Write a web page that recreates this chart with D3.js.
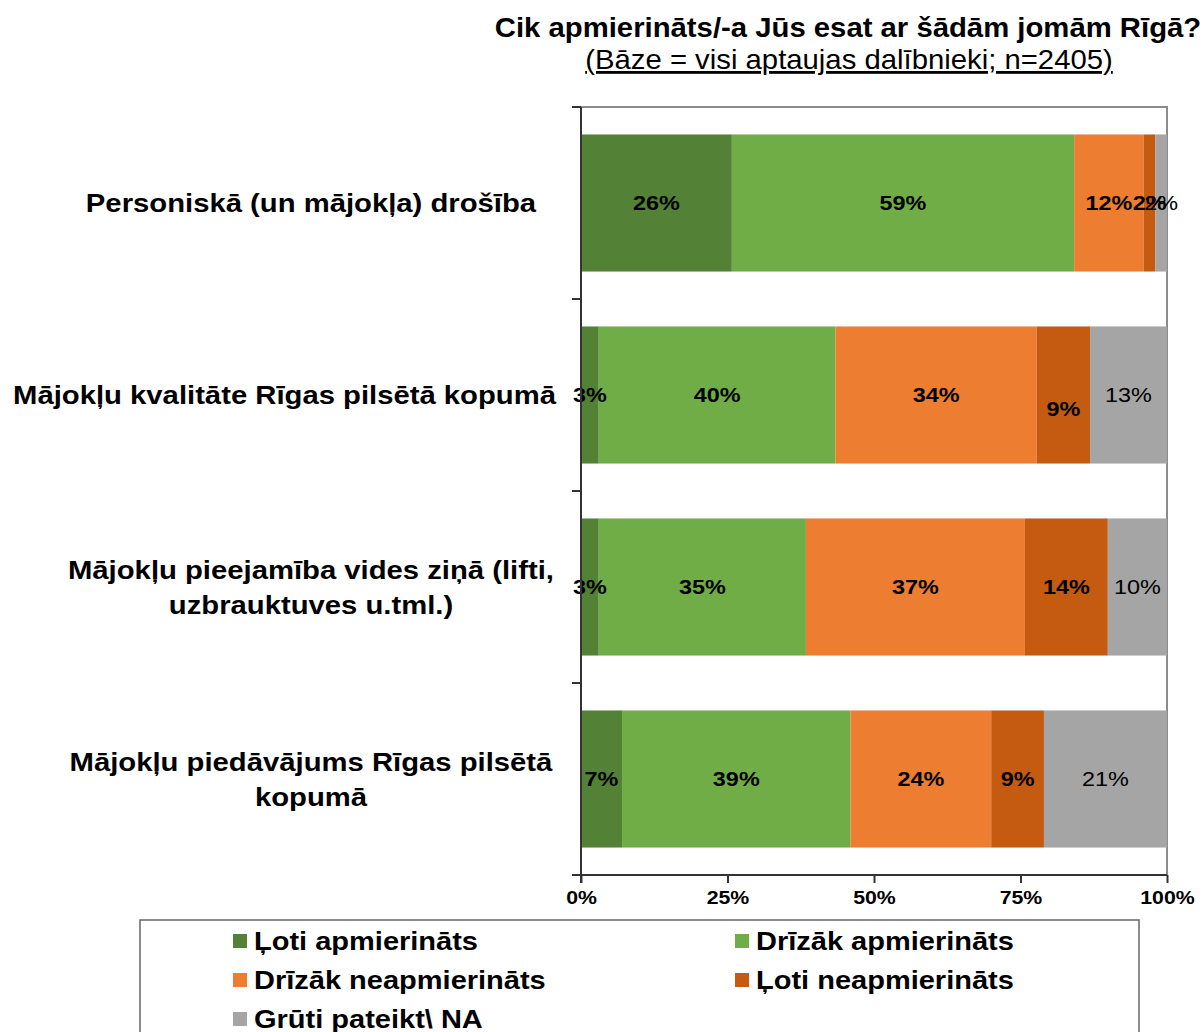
<!DOCTYPE html>
<html>
<head>
<meta charset="utf-8">
<script src="https://cdn.jsdelivr.net/npm/d3@7"></script>
<style>
  html, body { margin: 0; padding: 0; background: #fff; }
  svg { display: block; }
</style>
</head>
<body>
<svg id="chart" width="1204" height="1032"></svg>
<script>
// Survey categories (y axis), top to bottom
const categories = [
  ["Personiskā (un mājokļa) drošība"],
  ["Mājokļu kvalitāte Rīgas pilsētā kopumā"],
  ["Mājokļu pieejamība vides ziņā (lifti,", "uzbrauktuves u.tml.)"],
  ["Mājokļu piedāvājums Rīgas pilsētā", "kopumā"]
];

// Answer options (stack order, left to right)
const seriesNames = [
  "Ļoti apmierināts",
  "Drīzāk apmierināts",
  "Drīzāk neapmierināts",
  "Ļoti neapmierināts",
  "Grūti pateikt\\ NA"
];

// Share of respondents, %, one array per answer option (rows follow categories)
const veryPleased    = [26, 3, 3, 7];
const ratherPleased  = [59, 40, 35, 39];
const ratherUnhappy  = [12, 34, 37, 24];
const veryUnhappy    = [2, 9, 14, 9];
const hardToSay      = [2, 13, 10, 21];

const xTickLabels = ["0%", "25%", "50%", "75%", "100%"];
const xTickValues = [0, 0.25, 0.5, 0.75, 1];

const colors = ["#538135", "#70ad47", "#ed7d31", "#c55a11", "#a5a5a5"];

const seriesValues = [veryPleased, ratherPleased, ratherUnhappy, veryUnhappy, hardToSay];
const rows = categories.map((c, i) => {
  const r = { idx: i };
  seriesNames.forEach((s, j) => { r[s] = seriesValues[j][i]; });
  return r;
});

const svg = d3.select("#chart");
const sans = "'Liberation Sans',Arial,sans-serif";

// Widen a text (or tspan) horizontally by a factor, keeping its anchor
function widen(sel, f) {
  sel.each(function () {
    const w = this.getComputedTextLength();
    d3.select(this).attr("textLength", w * f).attr("lengthAdjust", "spacingAndGlyphs");
  });
}

const plot = { left: 581, right: 1167, top: 107, bottom: 875 };

const x = d3.scaleLinear().domain([0, 1]).range([plot.left, plot.right]);
const y = d3.scaleBand().domain(d3.range(categories.length))
  .range([plot.top, plot.bottom]).paddingInner(0.286).paddingOuter(0.143);

const stack = d3.stack().keys(seriesNames).offset(d3.stackOffsetExpand);
const layers = stack(rows);

// Title
svg.append("text")
  .attr("x", 848).attr("y", 37)
  .attr("text-anchor", "middle")
  .style("font-family", sans).style("font-weight", "bold").style("font-size", "28px")
  .text("Cik apmierināts/-a Jūs esat ar šādām jomām Rīgā?")
  .call(widen, 1.046);
svg.append("text")
  .attr("x", 849).attr("y", 69)
  .attr("text-anchor", "middle")
  .style("font-family", sans).style("font-size", "28px")
  .style("text-decoration", "underline")
  .text("(Bāze = visi aptaujas dalībnieki; n=2405)")
  .call(widen, 1.046);

// Plot frame (top and right edges)
svg.append("path")
  .attr("d", `M${plot.left},${plot.top}H${plot.right}V${plot.bottom}`)
  .attr("fill", "none").attr("stroke", "#8c8c8c").attr("stroke-width", 2);

// Bars
const g = svg.append("g");
layers.forEach((layer, j) => {
  g.selectAll(null).data(layer).enter().append("rect")
    .attr("x", d => x(d[0]))
    .attr("width", d => x(d[1]) - x(d[0]))
    .attr("y", (d, i) => y(i))
    .attr("height", y.bandwidth())
    .attr("fill", colors[j]);
});

// Value labels; Excel moved one crowded label down a little
const labelNudge = { "1-3": 14 };
layers.forEach((layer, j) => {
  g.selectAll(null).data(layer).enter().append("text")
    .attr("x", d => (x(d[0]) + x(d[1])) / 2)
    .attr("y", (d, i) => y(i) + y.bandwidth() / 2 + 7 + (labelNudge[i + "-" + j] || 0))
    .attr("text-anchor", "middle")
    .style("font-family", sans)
    .style("font-weight", j === 4 ? "normal" : "bold")
    .style("font-size", "20px")
    .attr("fill", "#000")
    .text((d, i) => seriesValues[j][i] + "%")
    .call(widen, 1.17);
});

// X axis
const xAxis = d3.axisBottom(x).tickValues(xTickValues)
  .tickFormat((d, i) => xTickLabels[i]).tickSize(8).tickPadding(8);
const gx = svg.append("g").attr("transform", `translate(0,${plot.bottom})`).call(xAxis);
gx.select(".domain").attr("d", `M${plot.left - 9},0H${plot.right}`)
  .attr("stroke", "#333").attr("stroke-width", 2);
gx.selectAll(".tick line").attr("stroke", "#333").attr("stroke-width", 2);
gx.selectAll(".tick text")
  .style("font-family", sans).style("font-weight", "bold").style("font-size", "19px")
  .attr("fill", "#000")
  .call(widen, 1.12);

// Y axis line with ticks at category boundaries
const boundaries = d3.range(categories.length + 1).map(i => plot.top + i * (plot.bottom - plot.top) / categories.length);
svg.append("line")
  .attr("x1", plot.left).attr("x2", plot.left)
  .attr("y1", plot.top).attr("y2", plot.bottom + 8)
  .attr("stroke", "#333").attr("stroke-width", 2);
svg.selectAll(null).data(boundaries).enter().append("line")
  .attr("x1", plot.left - 9).attr("x2", plot.left)
  .attr("y1", d => d).attr("y2", d => d)
  .attr("stroke", "#333").attr("stroke-width", 2);

// Category labels, centred, kept clear of the axis
const labelCenter = 311, labelRightLimit = 556, lineH = 35, catWiden = 1.17;
categories.forEach((lines, i) => {
  const cy = y(i) + y.bandwidth() / 2;
  const t = svg.append("text")
    .attr("text-anchor", "middle")
    .style("font-family", sans).style("font-weight", "bold").style("font-size", "25px")
    .attr("fill", "#000");
  lines.forEach((ln, k) => {
    t.append("tspan")
      .attr("x", labelCenter)
      .attr("y", cy + 9 + (k - (lines.length - 1) / 2) * lineH)
      .text(ln);
  });
  let w = 0;
  t.selectAll("tspan").each(function () { w = Math.max(w, this.getComputedTextLength()); });
  t.selectAll("tspan").call(widen, catWiden);
  const cx = Math.min(labelCenter, labelRightLimit - w * catWiden / 2);
  t.selectAll("tspan").attr("x", cx);
});

// Legend
svg.append("rect")
  .attr("x", 140).attr("y", 920).attr("width", 999).attr("height", 130)
  .attr("fill", "#fff").attr("stroke", "#666").attr("stroke-width", 1.5);
const legendPos = [[233, 941], [735, 941], [233, 980], [735, 980], [233, 1019]];
seriesNames.forEach((s, j) => {
  const [lx, ly] = legendPos[j];
  svg.append("rect").attr("x", lx).attr("y", ly - 7).attr("width", 14).attr("height", 14).attr("fill", colors[j]);
  svg.append("text")
    .attr("x", lx + 21).attr("y", ly + 9)
    .style("font-family", sans).style("font-weight", "bold").style("font-size", "25px")
    .attr("fill", "#000")
    .text(s)
    .call(widen, 1.16);
});
</script>
</body>
</html>
